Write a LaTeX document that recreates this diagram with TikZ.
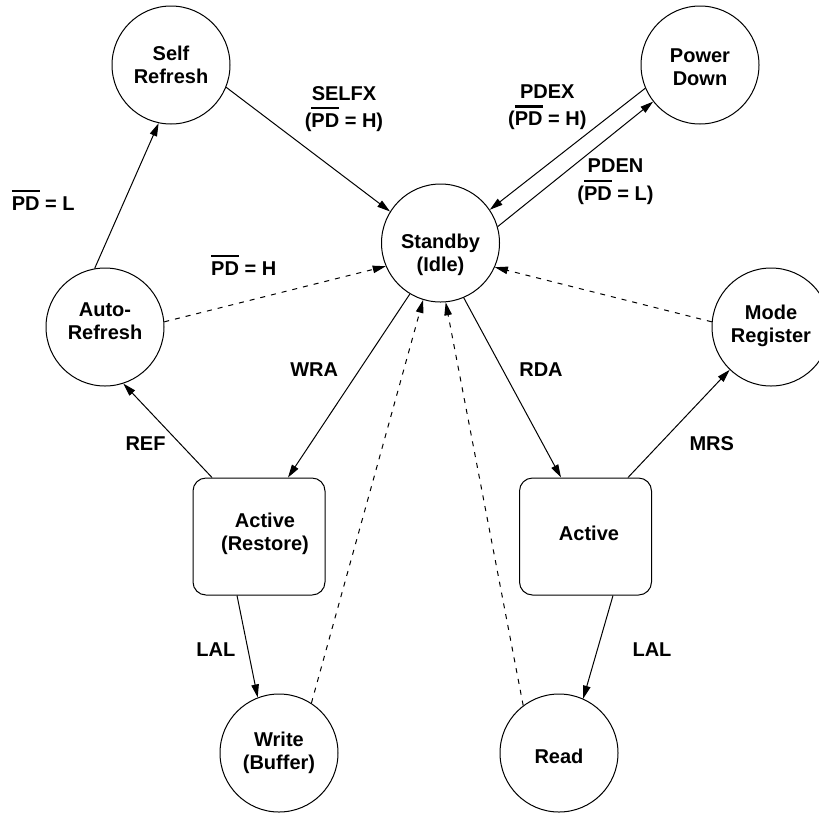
\documentclass[tikz,border=0pt]{standalone}
\usepackage{fontspec}
\setmainfont{Liberation Sans}
\usetikzlibrary{arrows.meta}
\newcommand\olPD{\vbox{\hrule height 2.5pt\kern 4.5pt\hbox{PD}}}
\newcommand\ntext[3]{\raisebox{#2}[0pt][0pt]{\makebox[0pt]{\hspace*{#1}\begin{tabular}{@{}c@{}}#3\end{tabular}}}}
\newcommand\twol[2]{\begin{tabular}[t]{@{}c@{}}#1\\#2\end{tabular}}
\begin{document}
\begin{tikzpicture}[x=1pt,y=-1pt,
  every node/.style={font=\fontsize{20}{23}\selectfont\bfseries},
  state/.style={circle, draw, line width=1pt, minimum size=118pt, inner sep=0pt},
  act/.style={draw, line width=1pt, rounded corners=13pt, minimum width=132pt, minimum height=117pt, inner sep=0pt},
  tr/.style={line width=1pt, -{Triangle[length=13pt,width=7.5pt]}},
  dtr/.style={tr, dash pattern=on 5pt off 6pt},
  lab/.style={anchor=base, inner sep=0pt}]
\useasboundingbox (0,0) rectangle (819,812);
\fill[white] (0,0) rectangle (819,812);
% states
\node[state] (sr) at (171,65) {\ntext{0pt}{-7.6pt}{Self\\Refresh}};
\node[state] (pd) at (700,65) {\ntext{0pt}{-9.3pt}{Power\\Down}};
\node[state] (sb) at (440.5,243) {\ntext{0pt}{-17.6pt}{Standby\\(Idle)}};
\node[state] (au) at (105,327) {\ntext{0pt}{-1.6pt}{Auto-\\Refresh}};
\node[state] (mr) at (771,327) {\ntext{0pt}{-4.1pt}{Mode\\Register}};
\node[act] (ar) at (259,536.5) {\ntext{12pt}{-2.6pt}{Active\\(Restore)}};
\node[act] (ac) at (585.5,536.5) {\ntext{7pt}{-4.1pt}{Active}};
\node[state] (wr) at (279,753) {\ntext{0pt}{-5.1pt}{Write\\(Buffer)}};
\node[state] (rd) at (559,753) {\ntext{0pt}{-10.6pt}{Read}};
% transitions
\draw[tr] (au.100) -- (sr.258);
\draw[tr] (sr.-22) -- (sb.148);
\draw[tr] (pd.203) -- (sb.34);
\draw[tr] (sb.16) -- (pd.218);
\draw[dtr] (au.5) -- (sb.203);
\draw[dtr] (mr.175) -- (sb.-24);
\draw[tr] (sb.239) -- ([xshift=29pt]ar.north);
\draw[tr] ([xshift=-47pt]ar.north) -- (au.-72);
\draw[dtr] (wr.57) -- (sb.253);
\draw[dtr] (rd.127) -- (sb.275);
\draw[tr] (sb.-67) -- ([xshift=-24.5pt]ac.north);
\draw[tr] ([xshift=42.5pt]ac.north) -- (mr.226);
\draw[tr] ([xshift=-22pt]ar.south) -- (wr.111);
\draw[tr] ([xshift=27.5pt]ac.south) -- (rd.66);
% labels
\node[lab] (lpdl) at (43.3,210.7) {\olPD{} = L};
\node[lab] (lpdh) at (243.7,275.7) {\olPD{} = H};
\node[lab] (lselfx) at (344,100) {\twol{SELFX}{(\olPD{} = H)}};
\node[lab] (lpdex) at (547.3,98.3) {\twol{PDEX}{(\olPD{} = H)}};
\node[lab] (lpden) at (615.5,172.7) {\twol{PDEN}{(\olPD{} = L)}};
\node[lab] (lwra) at (314.2,376.7) {WRA};
\node[lab] (lrda) at (541,376.7) {RDA};
\node[lab] (lref) at (145.5,450) {REF};
\node[lab] (lmrs) at (711.8,450.7) {MRS};
\node[lab] (llal1) at (215.8,656.7) {LAL};
\node[lab] (llal2) at (652,656.7) {LAL};
\end{tikzpicture}
\end{document}
